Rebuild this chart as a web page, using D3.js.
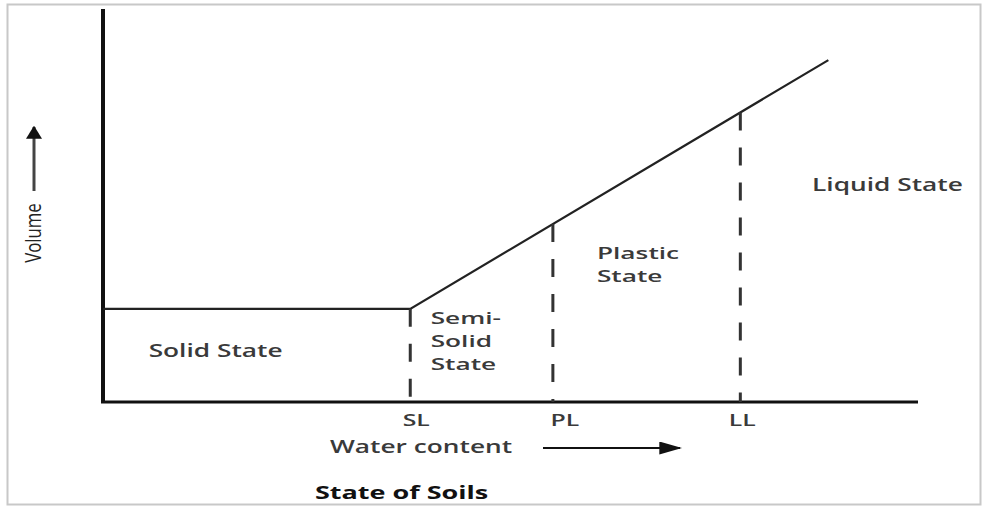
<!DOCTYPE html>
<html>
<head>
<meta charset="utf-8">
<script src="https://cdn.jsdelivr.net/npm/d3@7"></script>
<style>
  body { margin: 0; background: #fff; }
  text { font-family: "Open Sans", "DejaVu Sans", sans-serif; fill: #3a3a3a; }
</style>
</head>
<body>
<div id="chart"></div>
<script>
// water content vs volume (schematic, units 0-100)
var waterContent = [0, 37.7, 89];
var volume = [23.7, 23.7, 87];
var limitNames = ["SL", "PL", "LL"];
var limitValues = [37.7, 55.2, 78.2];
var stateNames = [["Solid State"], ["Semi-", "Solid", "State"], ["Plastic", "State"], ["Liquid State"]];
var stateX = [5.6, 40.2, 60.6, 87.0];
var stateY = [11.5, 19.8, 36.3, 53.8];

const width = 984;
const height = 507;
const sx = 1.46; // text in the picture is stretched sideways

var svg = d3.select("#chart").append("svg")
    .attr("width", width)
    .attr("height", height);

// outer frame
svg.append("rect")
    .attr("x", 7.5).attr("y", 4.5)
    .attr("width", 973).attr("height", 500)
    .attr("fill", "none")
    .attr("stroke", "#c8c8c8")
    .attr("stroke-width", 2);

var x = d3.scaleLinear().domain([0, 100]).range([103, 918]);
var y = d3.scaleLinear().domain([0, 100]).range([402, 9]);

var defs = svg.append("defs");
function marker(id, w, h, col) {
    defs.append("marker")
        .attr("id", id)
        .attr("viewBox", "0 0 10 10")
        .attr("refX", 9).attr("refY", 5)
        .attr("markerWidth", w).attr("markerHeight", h)
        .attr("markerUnits", "userSpaceOnUse")
        .attr("orient", "auto")
        .attr("preserveAspectRatio", "none")
        .append("path")
        .attr("d", "M0,0L10,5L0,10Z")
        .attr("fill", col);
}
marker("arrowX", 23, 13, "#111");
marker("arrowY", 13, 16, "#111");

function label(px, py, lines, size, weight, anchor) {
    // multi-line labels: a bit smaller so the lines don't touch
    var fs = lines.length > 1 ? 16.8 : size;
    var t = svg.append("text")
        .attr("transform", "translate(" + px + "," + py + ") scale(" + (sx * size / fs) + ",1)")
        .attr("font-size", fs)
        .attr("font-weight", weight)
        .attr("text-anchor", anchor || "start");
    lines.forEach(function(l, j) {
        t.append("tspan")
            .attr("x", 0)
            .attr("dy", j == 0 ? 0 : 23)
            .text(l);
    });
    return t;
}

// axes
svg.append("line")
    .attr("x1", x(0)).attr("x2", x(0))
    .attr("y1", y(100)).attr("y2", y(0))
    .attr("stroke", "#111").attr("stroke-width", 4);
svg.append("line")
    .attr("x1", x(0) - 2).attr("x2", x(100))
    .attr("y1", y(0)).attr("y2", y(0))
    .attr("stroke", "#111").attr("stroke-width", 3);

// curve
var line = d3.line()
    .x(function(d, i) { return x(waterContent[i]); })
    .y(function(d, i) { return y(volume[i]); });
svg.append("path")
    .attr("d", line(waterContent))
    .attr("fill", "none")
    .attr("stroke", "#222")
    .attr("stroke-width", 2.2);

function volumeAt(w) {
    for (var i = 1; i < waterContent.length; i++) {
        if (w <= waterContent[i]) {
            var t = (w - waterContent[i - 1]) / (waterContent[i] - waterContent[i - 1]);
            return volume[i - 1] + t * (volume[i] - volume[i - 1]);
        }
    }
    return volume[volume.length - 1];
}

// limit lines
limitValues.forEach(function(v, i) {
    svg.append("line")
        .attr("x1", x(v)).attr("x2", x(v))
        .attr("y1", y(volumeAt(v))).attr("y2", y(0))
        .attr("stroke", "#333")
        .attr("stroke-width", 3)
        .attr("stroke-dasharray", "18,17");
    label(x(v) + (i == 0 ? 6 : (i == 1 ? 12 : 2)), 426, [limitNames[i]], 17, 600, "middle");
});

// state labels
stateNames.forEach(function(lines, i) {
    label(x(stateX[i]), y(stateY[i]), lines, 18, 600);
});

// x axis title + arrow
label(330, 453, ["Water content"], 18, 600);
svg.append("line")
    .attr("x1", 543).attr("x2", 680)
    .attr("y1", 448).attr("y2", 448)
    .attr("stroke", "#111").attr("stroke-width", 2)
    .attr("marker-end", "url(#arrowX)");

// y axis title + arrow
svg.append("text")
    .attr("transform", "translate(41,233) rotate(-90) scale(0.8,1)")
    .attr("text-anchor", "middle")
    .attr("font-family", "'Liberation Sans', Arial, sans-serif")
    .attr("font-size", 21)
    .style("fill", "#222")
    .text("Volume");
svg.append("line")
    .attr("x1", 34).attr("x2", 34)
    .attr("y1", 191).attr("y2", 127)
    .attr("stroke", "#444").attr("stroke-width", 3)
    .attr("marker-end", "url(#arrowY)");

// caption
label(315, 499, ["State of Soils"], 18.5, "bold").style("fill", "#111");
</script>
</body>
</html>
